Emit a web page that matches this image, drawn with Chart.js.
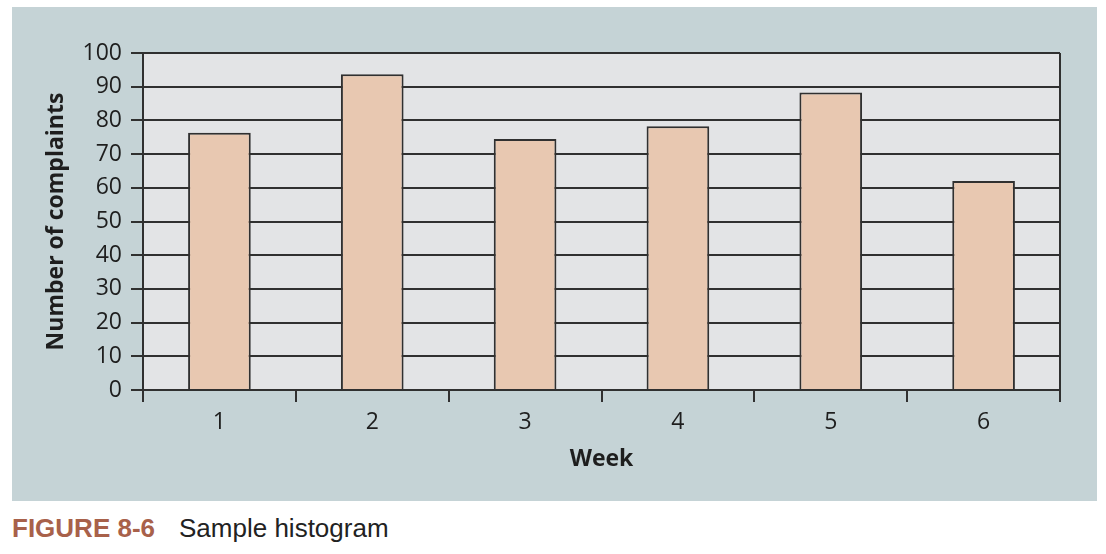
<!DOCTYPE html>
<html>
<head>
<meta charset="utf-8">
<script src="https://cdn.jsdelivr.net/npm/chart.js@4/dist/chart.umd.min.js"></script>
<style>
  html, body { margin: 0; padding: 0; background: #ffffff; width: 1106px; height: 554px; overflow: hidden; }
  #panel { position: absolute; left: 12px; top: 7px; width: 1085px; height: 494px; background: #c5d3d6; }
  #caption { position: absolute; left: 12px; top: 513px; font-family: "Liberation Sans", Arial, sans-serif; font-size: 26px; line-height: 30px; white-space: nowrap; }
  #caption .fig { color: #a8614a; font-weight: bold; }
  #caption .txt { color: #222222; margin-left: 24px; }
</style>
</head>
<body>
<div id="panel"><canvas id="c" width="1085" height="494"></canvas></div>
<div id="caption"><span class="fig">FIGURE 8-6</span><span class="txt">Sample histogram</span></div>
<script>
const weeks = ["1", "2", "3", "4", "5", "6"];
const complaints = [76.3, 93.7, 74.5, 78.3, 88.3, 62];
const yTicks = [0, 10, 20, 30, 40, 50, 60, 70, 80, 90, 100];
const xTitle = "Week";
const yTitle = "Number of complaints";

const LINE = "#303030";
const FONT = "'Open Sans', 'DejaVu Sans', sans-serif";

const plotBg = {
  id: "plotBg",
  beforeDraw(chart) {
    const a = chart.chartArea, ctx = chart.ctx;
    ctx.save();
    ctx.fillStyle = "#e3e4e6";
    ctx.fillRect(a.left, a.top, a.right - a.left, a.bottom - a.top);
    ctx.restore();
  },
  afterDatasetsDraw(chart) {
    const a = chart.chartArea, ctx = chart.ctx;
    ctx.save();
    ctx.strokeStyle = LINE;
    ctx.lineWidth = 2;
    ctx.beginPath();
    ctx.moveTo(a.right, a.top);
    ctx.lineTo(a.right, a.bottom + 12);
    ctx.stroke();
    ctx.restore();
  }
};

new Chart(document.getElementById("c"), {
  type: "bar",
  data: {
    labels: weeks,
    datasets: [{
      data: complaints,
      backgroundColor: "#e8c8b1",
      borderColor: LINE,
      borderWidth: 2,
      borderSkipped: "bottom",
      categoryPercentage: 1,
      barPercentage: 0.41
    }]
  },
  options: {
    responsive: false,
    animation: false,
    layout: { padding: { top: 46, right: 37, left: 0, bottom: 0 } },
    plugins: { legend: { display: false }, tooltip: { enabled: false } },
    scales: {
      x: {
        grid: { offset: true, drawOnChartArea: false, drawTicks: true, tickLength: 12, color: LINE, lineWidth: 2 },
        border: { display: true, color: LINE, width: 2 },
        ticks: { color: "#1e1e1e", font: { family: FONT, size: 23 }, padding: 7 },
        title: { display: true, text: xTitle, color: "#1e1e1e", font: { family: FONT, size: 23, weight: "bold" }, padding: { top: 4, bottom: 28 } },
        afterFit(scale) { scale.height = 111; }
      },
      y: {
        min: 0, max: 100,
        afterBuildTicks(scale) { scale.ticks = yTicks.map(v => ({ value: v })); },
        grid: { drawOnChartArea: true, drawTicks: true, tickLength: 12, color: LINE, lineWidth: 2 },
        border: { display: true, color: LINE, width: 2 },
        ticks: { color: "#1e1e1e", font: { family: FONT, size: 23 }, padding: 9 },
        title: { display: true, text: yTitle, color: "#1e1e1e", font: { family: FONT, size: 23, weight: "bold" }, padding: { top: 31, bottom: 4 } },
        afterFit(scale) { scale.width = 131; }
      }
    }
  },
  plugins: [plotBg]
});
</script>
</body>
</html>
